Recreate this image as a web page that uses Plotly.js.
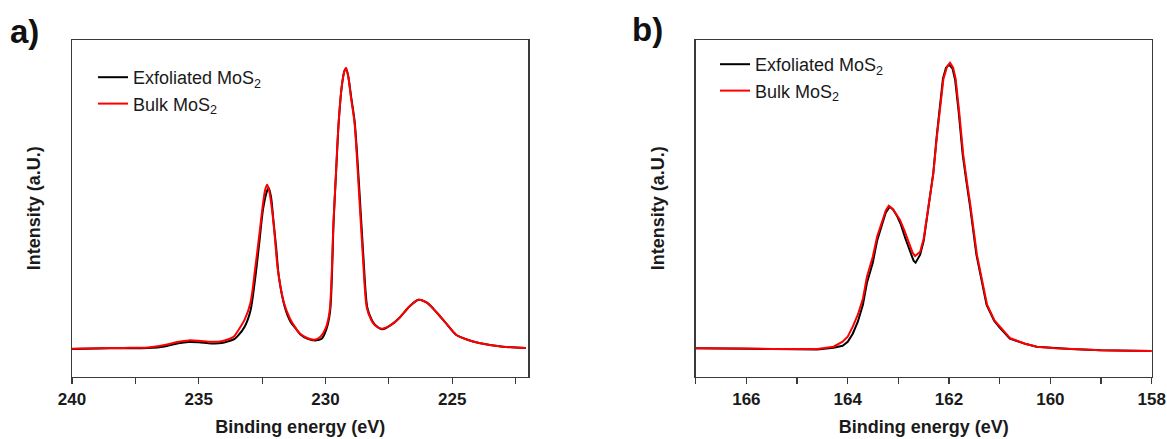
<!DOCTYPE html>
<html>
<head>
<meta charset="utf-8">
<script src="https://cdn.plot.ly/plotly-3.0.1.min.js"></script>
<style>html,body{margin:0;padding:0;background:#fff;}#chart{width:1167px;height:439px;}</style>
</head>
<body>
<div id="chart"></div>
<script>
// Panel a) Mo 3d region
const moEnergyRed = [240.0, 239.0, 238.0, 237.0, 236.3, 235.8, 235.4, 235.0, 234.5, 234.1, 233.8, 233.6, 233.45, 233.19, 232.96, 232.78, 232.62, 232.46, 232.38, 232.3, 232.22, 232.1, 232.0, 231.88, 231.64, 231.4, 231.22, 231.0, 230.7, 230.43, 230.2, 230.0, 229.84, 229.685, 229.58, 229.48, 229.35, 229.25, 229.19, 229.1, 229.0, 228.86, 228.69, 228.53, 228.37, 228.2, 228.07, 227.77, 227.4, 227.09, 226.7, 226.33, 226.0, 225.64, 225.2, 224.85, 224.4, 223.94, 223.0, 222.1];
const moBulk = [28, 28.5, 28.8, 29.3, 32, 35, 36.3, 36, 35, 35.5, 37.7, 40.5, 46, 57, 74, 107, 140, 174, 187, 192, 186, 165, 140, 107, 74, 58, 50.3, 43, 38.5, 37, 40, 48, 65, 155, 207, 255, 292, 306, 309, 300, 280, 255, 189, 122, 69, 57, 52, 48, 52, 58.7, 70, 77, 74, 65, 52, 42, 37, 33.7, 30, 28.7];
const moEnergyBlack = [240.0, 239.0, 238.0, 237.0, 236.3, 235.8, 235.4, 235.0, 234.5, 234.1, 233.8, 233.6, 233.45, 233.19, 232.96, 232.78, 232.62, 232.46, 232.3, 232.24, 232.15, 232.05, 231.95, 231.84, 231.61, 231.38, 231.2, 231.0, 230.7, 230.4, 230.15, 229.97, 229.82, 229.68, 229.58, 229.48, 229.35, 229.25, 229.19, 229.1, 228.99, 228.85, 228.67, 228.51, 228.35, 228.18, 228.05, 227.75, 227.4, 227.09, 226.7, 226.33, 226.0, 225.64, 225.2, 224.85, 224.4, 223.94, 223.0, 222.1];
const moExfoliated = [27.8, 28.3, 28.5, 28.6, 30.5, 33.5, 34.7, 34.4, 33.3, 33.6, 35.7, 37.5, 41, 50, 66, 97, 132, 168, 186, 188.7, 180, 155, 130, 100, 70, 55, 49, 42.5, 37.8, 36.3, 38, 47, 65, 155, 206, 254, 292, 306, 308, 300, 280, 255, 189, 122, 69, 57, 52, 47.5, 52, 58.7, 70, 77, 74, 65, 52, 42, 37, 33.7, 30, 28.7];

// Panel b) S 2p region
const sEnergyRed = [167.0, 166.5, 166.0, 165.5, 165.0, 164.6, 164.28, 164.1, 164.0, 163.9, 163.8, 163.7, 163.62, 163.505, 163.42, 163.34, 163.25, 163.19, 163.12, 163.05, 162.97, 162.88, 162.8, 162.72, 162.67, 162.57, 162.5, 162.44, 162.31, 162.24, 162.18, 162.11, 162.04, 161.98, 161.92, 161.87, 161.8, 161.72, 161.65, 161.58, 161.45, 161.35, 161.25, 161.1, 161.0, 160.79, 160.5, 160.27, 159.9, 159.61, 159.0, 158.5, 158.0];
const sBulk = [28.4, 28.5, 28.2, 27.8, 27.4, 27.8, 30, 35, 40, 50, 62, 78, 100, 120, 140, 153, 166, 171, 168, 163, 157, 146, 135, 124, 120.7, 125, 138, 160, 203, 240, 268, 298, 310, 314, 309, 298, 265, 222, 196, 172, 122, 95, 72, 56, 50, 38.4, 33, 30, 28.5, 27.7, 26.5, 26, 25.7];
const sEnergyBlack = [167.0, 166.5, 166.0, 165.5, 165.0, 164.6, 164.28, 164.1, 164.0, 163.9, 163.8, 163.7, 163.62, 163.505, 163.42, 163.34, 163.25, 163.17, 163.1, 163.03, 162.95, 162.86, 162.78, 162.7, 162.66, 162.57, 162.5, 162.44, 162.31, 162.24, 162.18, 162.12, 162.06, 162.0, 161.93, 161.88, 161.81, 161.73, 161.66, 161.59, 161.46, 161.36, 161.26, 161.11, 161.0, 160.8, 160.5, 160.27, 159.9, 159.61, 159.0, 158.5, 158.0];
const sExfoliated = [28.4, 28.4, 28.0, 27.6, 27.2, 27.3, 29, 31, 35, 43, 55, 72, 94, 114, 136, 150, 164, 170, 167, 161, 152, 138, 126, 116, 114, 122, 136, 158, 204, 242, 270, 298, 309, 312, 308, 297, 265, 222, 196, 172, 122, 95, 72, 56, 49, 38, 33, 30, 28.5, 27.7, 26.5, 26, 25.7];

const labelExf = 'Exfoliated MoS<sub>2</sub>';
const labelBulk = 'Bulk MoS<sub>2</sub>';

const W = 1167, H = 439;
const FONT = 'Liberation Sans, Arial, sans-serif';

const traces = [
  {x: moEnergyBlack, y: moExfoliated, name: labelExf, type: 'scatter', mode: 'lines',
   line: {color: '#000000', width: 2, shape: 'spline', smoothing: 0.8}, xaxis: 'x', yaxis: 'y', legend: 'legend'},
  {x: moEnergyRed, y: moBulk, name: labelBulk, type: 'scatter', mode: 'lines',
   line: {color: '#ff0000', width: 2, shape: 'spline', smoothing: 0.8}, xaxis: 'x', yaxis: 'y', legend: 'legend'},
  {x: sEnergyBlack, y: sExfoliated, name: labelExf, type: 'scatter', mode: 'lines',
   line: {color: '#000000', width: 2}, xaxis: 'x2', yaxis: 'y2', legend: 'legend2'},
  {x: sEnergyRed, y: sBulk, name: labelBulk, type: 'scatter', mode: 'lines',
   line: {color: '#ff0000', width: 2}, xaxis: 'x2', yaxis: 'y2', legend: 'legend2'}
];

const yDom = [1 - 376.7 / H, 1 - 40 / H];
const axLine = '#3a3a3a';

function xAxis(domain, range, dtick, minorDtick, anchor) {
  return {
    domain: domain, range: range, anchor: anchor,
    showline: true, linecolor: axLine, linewidth: 1.5, mirror: true,
    showgrid: false, zeroline: false,
    ticks: 'outside', ticklen: 6, tickwidth: 1.2, tickcolor: axLine,
    tick0: 0, dtick: dtick,
    minor: {dtick: minorDtick, ticks: 'outside', ticklen: 6, tickwidth: 1.2, tickcolor: axLine, showgrid: false},
    tickfont: {family: FONT, size: 17, color: '#1a1a1a', weight: 'bold'},
    title: {text: '<b>Binding energy (eV)</b>', font: {family: FONT, size: 18, color: '#1a1a1a'}, standoff: 13}
  };
}
function yAxis(domain, anchor) {
  return {
    domain: domain, range: [0, 336.7], anchor: anchor,
    showline: true, linecolor: axLine, linewidth: 1.5, mirror: true,
    showgrid: false, zeroline: false, ticks: '', showticklabels: false,
    title: {text: '<b>Intensity (a.U.)</b>', font: {family: FONT, size: 18, color: '#1a1a1a'}, standoff: 25}
  };
}

const layout = {
  width: W, height: H,
  margin: {l: 0, r: 0, t: 0, b: 0},
  paper_bgcolor: '#ffffff', plot_bgcolor: '#ffffff',
  showlegend: true,
  xaxis: xAxis([72 / W, 528.3 / W], [240, 222], 5, 2.5, 'y'),
  yaxis: yAxis(yDom, 'x'),
  xaxis2: xAxis([695.7 / W, 1151.7 / W], [167, 158], 2, 1, 'y2'),
  yaxis2: yAxis(yDom, 'x2'),
  legend: {x: 93 / W, y: 1 - 59 / H, xanchor: 'left', yanchor: 'top', bgcolor: 'rgba(0,0,0,0)',
           font: {family: FONT, size: 18, color: '#1a1a1a'}, tracegroupgap: 0},
  legend2: {x: 715 / W, y: 1 - 46 / H, xanchor: 'left', yanchor: 'top', bgcolor: 'rgba(0,0,0,0)',
           font: {family: FONT, size: 18, color: '#1a1a1a'}, tracegroupgap: 0},
  annotations: [
    {text: '<b>a)</b>', xref: 'paper', yref: 'paper', x: 8 / W, y: 1 - 11 / H, xanchor: 'left', yanchor: 'top',
     showarrow: false, font: {family: FONT, size: 33, color: '#111111'}},
    {text: '<b>b)</b>', xref: 'paper', yref: 'paper', x: 630 / W, y: 1 - 9 / H, xanchor: 'left', yanchor: 'top',
     showarrow: false, font: {family: FONT, size: 33, color: '#111111'}}
  ]
};

Plotly.newPlot('chart', traces, layout, {displayModeBar: false, staticPlot: true});
</script>
</body>
</html>
